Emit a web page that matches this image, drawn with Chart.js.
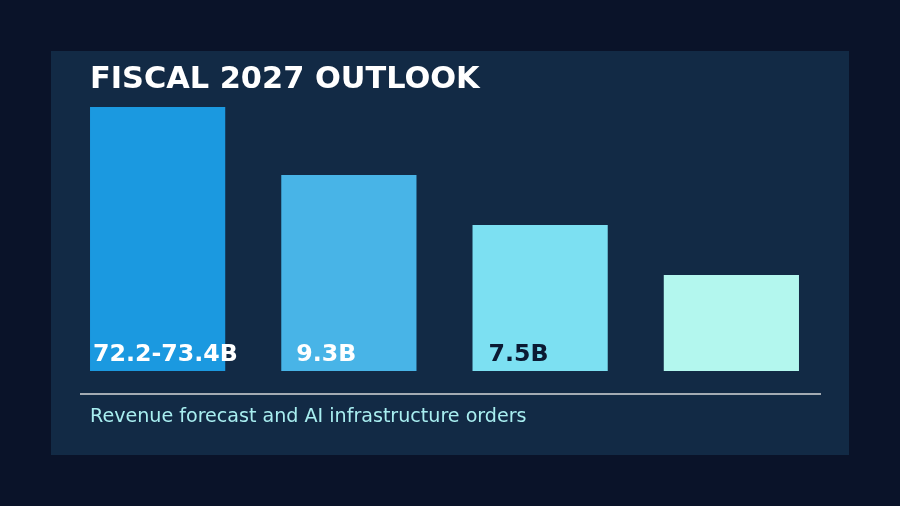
<!DOCTYPE html>
<html>
<head>
<meta charset="utf-8">
<script src="https://cdn.jsdelivr.net/npm/chart.js@4/dist/chart.umd.min.js"></script>
<style>
  html, body { margin: 0; padding: 0; background: #0a1329; }
  #wrap { width: 900px; height: 506px; }
</style>
</head>
<body>
<div id="wrap"><canvas id="myChart" width="900" height="506"></canvas></div>
<script>
// data (bar heights are relative, labels as printed)
const categories = ['Revenue', 'Orders A', 'Orders B', 'Orders C'];
const barValues = [264, 196, 146, 96];
const valueLabels = ['72.2-73.4B', '9.3B', '7.5B', ''];
const titleText = 'FISCAL 2027 OUTLOOK';
const subtitleText = 'Revenue forecast and AI infrastructure orders';

const barColors = ['#1b99e0', '#48b4e7', '#7ce0f2', '#b3f7ee'];
const labelColors = ['#ffffff', '#ffffff', '#0b1a33', '#0b1a33'];
const labelOffsets = [3, 15, 16, 16];

const FONT = '"DejaVu Sans", sans-serif';

const panelPlugin = {
    id: 'panel',
    beforeDraw(chart) {
        const c = chart.ctx;
        c.save();
        c.fillStyle = '#0a1329';
        c.fillRect(0, 0, chart.width, chart.height);
        c.fillStyle = '#122a45';
        c.fillRect(51, 51, 798, 404);
        c.restore();
    },
    afterDraw(chart) {
        const c = chart.ctx;
        c.save();
        // title
        c.fillStyle = '#ffffff';
        c.font = 'bold 30.4px ' + FONT;
        c.textBaseline = 'alphabetic';
        c.textAlign = 'left';
        c.fillText(titleText, 90, 88);
        // rule under the bars
        c.strokeStyle = '#a3abb3';
        c.lineWidth = 2;
        c.beginPath();
        c.moveTo(80, 394);
        c.lineTo(821, 394);
        c.stroke();
        // subtitle
        c.fillStyle = '#a8eef0';
        c.font = '19.1px ' + FONT;
        c.fillText(subtitleText, 90, 422);
        c.restore();
    }
};

const labelPlugin = {
    id: 'barLabels',
    afterDatasetsDraw(chart) {
        const c = chart.ctx;
        const meta = chart.getDatasetMeta(0);
        c.save();
        c.font = 'bold 23.7px ' + FONT;
        c.textBaseline = 'alphabetic';
        c.textAlign = 'left';
        meta.data.forEach((bar, i) => {
            if (!valueLabels[i]) return;
            c.fillStyle = labelColors[i];
            c.fillText(valueLabels[i], bar.x - bar.width / 2 + labelOffsets[i], 361);
        });
        c.restore();
    }
};

new Chart(document.getElementById('myChart'), {
    type: 'bar',
    data: {
        labels: categories,
        datasets: [{
            data: barValues,
            backgroundColor: barColors,
            borderWidth: 0,
            barPercentage: 0.707,
            categoryPercentage: 1
        }]
    },
    options: {
        responsive: false,
        animation: false,
        devicePixelRatio: 1,
        layout: { padding: { left: 62, right: 73, top: 91, bottom: 135 } },
        plugins: {
            legend: { display: false },
            tooltip: { enabled: false },
            title: { display: false }
        },
        scales: {
            x: { display: false },
            y: { display: false, min: 0, max: 280 }
        }
    },
    plugins: [panelPlugin, labelPlugin]
});
</script>
</body>
</html>
